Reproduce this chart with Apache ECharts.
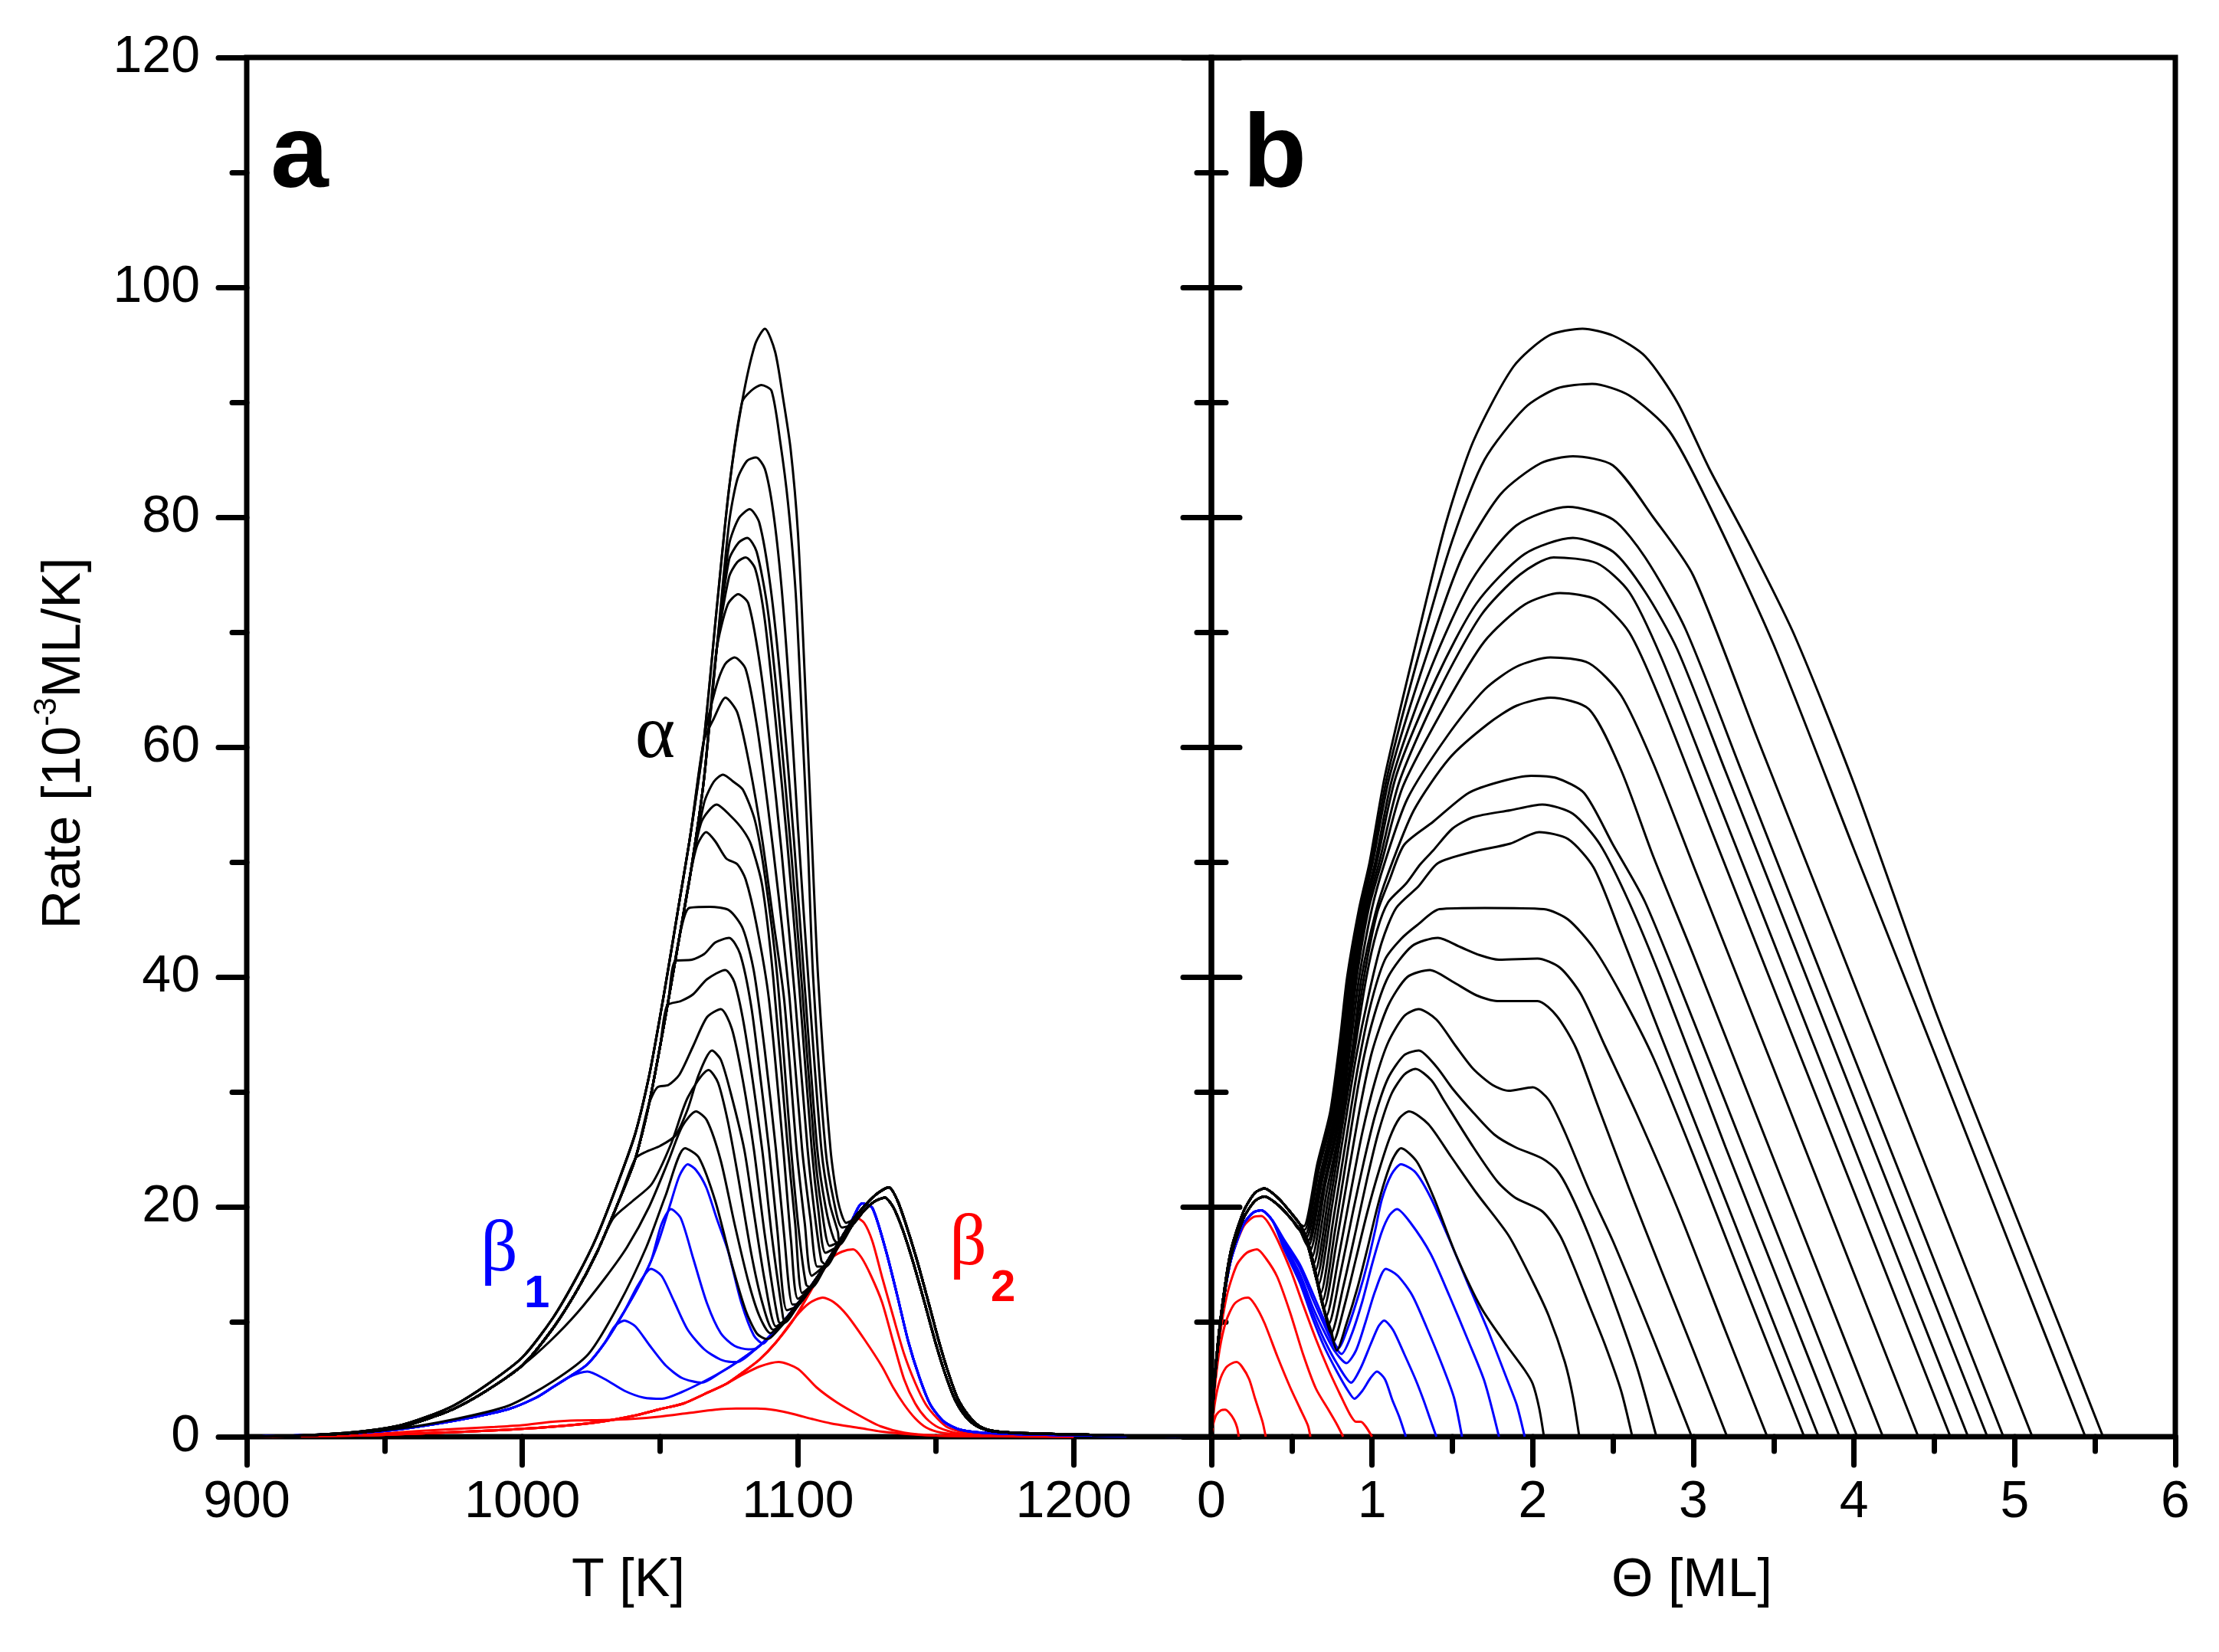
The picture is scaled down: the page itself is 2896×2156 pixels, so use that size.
<!DOCTYPE html>
<html><head><meta charset="utf-8">
<script src="https://cdn.jsdelivr.net/npm/echarts/dist/echarts.min.js"></script>
<style>html,body{margin:0;padding:0;background:#fff}#c{width:2896px;height:2156px}</style>
</head><body><div id="c"></div>
<script>
// ---------- Tick labels ----------
const xTicksA = [900, 1000, 1100, 1200];
const xTicksB = [0, 1, 2, 3, 4, 5, 6];
const yTicks = [0, 20, 40, 60, 80, 100, 120];

// ---------- Panel a : Rate vs T ----------
// zero-order leading edges of the black curves (lower and upper side of the bundle)
const leadBlackA = [[900,0],[920,0.1],[940,0.35],[955,0.8],[965,1.5],[975,2.4],[987,4.0],[1000,6.2],[1011,9.4],[1020,12.8],[1027,16],[1035,20.5],[1041,24.2],[1046,29],[1050,34],[1053,38],[1057,43.5],[1061,49],[1065.8,57],[1070.5,68.5],[1075,79.5],[1079.7,88],[1084.4,94]];
const leadBlackHiA = [[900,0],[920,0.12],[940,0.42],[955,0.95],[965,1.7],[975,2.7],[987,4.5],[1000,6.9],[1011,10.3],[1020,14],[1027,17.4],[1035,22.3],[1041,26.4],[1046,31.4],[1050,36.6],[1053,40.8],[1057,46.6],[1061,52.4],[1065.8,60.5],[1070.5,72],[1075,82.5],[1079.7,90],[1084.4,95]];
const leadBlueA = [[900,0],[930,0.2],[950,0.5],[963,0.9],[980,1.6],[995,2.4],[1005,3.4],[1011,4.3],[1017,5.2],[1023.6,6.3],[1030,8.2],[1037,10.9],[1042,13],[1046.7,15.3],[1050,17.4],[1053.9,20.4]];
const leadRedA = [[900,0],[940,0.1],[965,0.3],[990,0.55],[1010,0.85],[1027,1.25],[1040,1.8],[1050,2.4],[1058.6,2.9],[1066,3.7],[1074,4.6],[1080,5.6],[1086,6.7],[1092,8.2],[1099,10.4],[1106.6,13.5],[1112,15.5],[1116,17],[1121,18.5]];
// beta2 edges
const riseBlackLoA = [[1085,7.6],[1090,8.6],[1095,9.9],[1100,11.4],[1105,13],[1110,14.8],[1115,16.7],[1120,18.5],[1124.5,19.8],[1128,20.5],[1131.5,20.8]];
const fallBlackLoA = [[1134.5,20],[1138,18],[1142,15],[1146,11.6],[1150,8.1],[1153.5,5.4],[1157,3.2],[1161,1.7],[1165,0.9],[1170,0.5],[1180,0.32],[1200,0.2],[1225,0.07],[1250,0]];
const riseBlackA = [[1085,7.7],[1090,8.8],[1095,10.1],[1100,11.6],[1105,13.2],[1110,15],[1115,17],[1120,18.9],[1125,20.3],[1129,21.2],[1133,21.7]];
const fallBlackA = [[1136,20.6],[1139,18.6],[1143,15.5],[1147,12],[1151,8.4],[1154.5,5.6],[1158,3.3],[1162,1.8],[1166,0.9],[1171,0.5],[1180,0.33],[1200,0.2],[1225,0.07],[1250,0]];
const riseBlueA = [[1050,3.3],[1058,3.9],[1065,4.7],[1072,5.6],[1078,6.5],[1085,7.7],[1090,8.8],[1095,10.1],[1100,11.6],[1105,13.2],[1110,15],[1115,17],[1119.5,18.8],[1123.3,20.3]];
const fallBlueA = [[1127,19.9],[1132,16.1],[1136,12.3],[1140,8.3],[1144,5.2],[1148,2.8],[1153,1.3],[1159,0.6],[1170,0.3],[1200,0.12],[1250,0]];

// black curves (low -> high initial coverage): lead cut, which lead, own part
const blackCutA = [null,1000,1027,1041,1046,1050,1053,1057,1061,1061,1061,1065.8,1065.8,1070.5,1070.5,1070.5,1070.5,1075,1079.7,1084.4];
const blackHiLeadA = [0,0,0,0,0,0,0,0,0,0,0,1,1,0,0,0,0,0,1,1];
const blackMidA = [
 [[900,0],[930,0.2],[955,0.7],[975,1.5],[995,2.7],[1011,4.8],[1024,7.2],[1035,11.5],[1045,16.5],[1052,21],[1059,25.1],[1064,24.3],[1070,20.5],[1076,15],[1081,11],[1085,9],[1088.5,8.5]],
 [[1010,8.3],[1020,10.8],[1030,13.8],[1038,16.5],[1046,20],[1053,24],[1058,27],[1063,28.3],[1067,27.5],[1072,24],[1077,18.5],[1082,13.5],[1086,10.5],[1090,9]],
 [[1033,19],[1040,20.5],[1047,22],[1054,25.5],[1060,29.5],[1067.6,31.9],[1071,30.8],[1074.5,27.5],[1078,23],[1083,16],[1087,11.7],[1091,9.3]],
 [[1045,24.8],[1050,25.3],[1055.5,26.2],[1060,28.5],[1064,31.5],[1068.8,33.6],[1072,32.8],[1075.5,30],[1080.5,25],[1084,19.5],[1088,13.5],[1092,9.6]],
 [[1049,30.4],[1053,30.6],[1057,31.5],[1062,34],[1067,36.5],[1072,37.2],[1076,35.5],[1080,31],[1084,25],[1088,17.5],[1093,10]],
 [[1052.5,37.5],[1057.5,37.9],[1062,38.5],[1067,39.8],[1073.6,40.6],[1077,39.5],[1081,35],[1087,25],[1090.5,17.5],[1094.5,10.5]],
 [[1055.5,41.4],[1061.5,41.5],[1066,42],[1070,43],[1075,43.4],[1079,42],[1083,37.5],[1086.5,31],[1089.5,25],[1092.5,18],[1096,11]],
 [[1060.5,46],[1068,46.1],[1075,45.8],[1080,44.2],[1084,40.5],[1088,33.5],[1092,25],[1095,17.5],[1098,11.5]],
 [[1063.5,51.5],[1066.7,52.6],[1070,51.8],[1074,50.3],[1078,49.8],[1081,48.5],[1085,44.5],[1089.5,38],[1094.5,25.5],[1097.5,17],[1100,12]],
 [[1065,53.5],[1070.5,55],[1075.6,54],[1080,52.8],[1083,51.5],[1087,48],[1091,40],[1096,26],[1099,18.5],[1101.5,12.5]],
 [[1066,55.2],[1069.5,57],[1072.8,57.6],[1076.5,57],[1080,56.3],[1084.4,53.6],[1088,48.8],[1092.5,40],[1097.5,25],[1100.5,17.5],[1103,13.2]],
 [[1069.5,62.5],[1073.7,64.3],[1078,63],[1082.5,58.3],[1087,52],[1091,45],[1095,38],[1099.5,25],[1102.5,18.5],[1105,14]],
 [[1070,65],[1073.5,67.2],[1077,67.8],[1081,66.8],[1085,62],[1089,55],[1093,47],[1097,38],[1101.5,25],[1104.5,19],[1107,14.8]],
 [[1074.5,72.4],[1078.3,73.3],[1082,72.5],[1086,67.5],[1090,60],[1094,51],[1099,38],[1103.5,25],[1106,19.5],[1108.5,15.3]],
 [[1075,74.8],[1078,76.1],[1081,76.5],[1084.5,75.5],[1088,71],[1092,62],[1096,52],[1100.5,39],[1105,25],[1107.5,19.5],[1110,16]],
 [[1075,76.3],[1078.5,77.8],[1081.6,78.2],[1085,77],[1089,72],[1093,63],[1097.5,51],[1101.5,39],[1106,25],[1108.5,20],[1111.5,16.6]],
 [[1075,77.6],[1078.5,79.9],[1082.5,80.7],[1086,79.5],[1090,74],[1094,65],[1098.5,52],[1102.5,39],[1107,25],[1110,20],[1113,17.2]],
 [[1078,83.3],[1081.5,84.9],[1084.8,85.2],[1088,84.2],[1091,80.5],[1094,74],[1097,64.5],[1100,53],[1104,39],[1108.5,25],[1111.5,20.3],[1114.5,17.8]],
 [[1083,91],[1086.7,91.5],[1090.4,91],[1093.6,86.5],[1096.4,81.2],[1099.2,73.3],[1101.5,62],[1103.5,52],[1105.5,40],[1110,25],[1113,20.5],[1116,18.2]],
 [[1088,96.4],[1091.7,94.4],[1094.5,90.5],[1097.3,86],[1100,78.6],[1102.5,66],[1104.5,55],[1107.3,40],[1111.8,25],[1114.5,20.5],[1117.5,18.6]]
];
const blueCutA = [1017,1030,1037,1046.7,1053.9];
const blueMidA = [
 [[1023.6,5.67],[1030,5.0],[1037,4.0],[1044,3.4],[1050.7,3.3]],
 [[1033.5,9.6],[1037,10.1],[1041,9.6],[1046,8],[1052,6.2],[1058,5.1],[1065,4.7]],
 [[1042,13.2],[1046.7,14.6],[1050.5,14],[1055,11.8],[1060,9.3],[1066,7.6],[1072,6.7],[1076,6.5]],
 [[1050.5,18.5],[1053.9,19.8],[1057.5,19],[1062,15.5],[1067,11.6],[1072,9],[1077,7.9],[1082,7.6]],
 [[1057,22.7],[1060,23.7],[1063,23.2],[1066.7,21.7],[1070.5,19],[1074.7,16.1],[1079.4,11.7],[1084,8.8],[1087.4,8.1]]
];
const redCutA = [null,1074,1099,1112,1116];
const redMidA = [
 [[900,0],[940,0.15],[963,0.5],[990,0.85],[1000,1.0],[1011,1.3],[1020,1.42],[1030,1.45],[1040,1.55],[1050,1.75],[1060,2.05],[1070,2.35],[1077.5,2.45],[1085,2.45],[1092,2.3],[1098.7,1.95],[1105,1.55],[1112,1.15],[1122.6,0.75],[1130,0.45],[1138.5,0.25],[1150,0.1],[1170,0.03],[1200,0]],
 [[1080,5.4],[1086,6.1],[1093,6.5],[1100,5.9],[1106.7,4.3],[1114,3.0],[1122.6,1.8],[1130,0.9],[1138.5,0.35],[1150,0.1],[1170,0.03],[1200,0]],
 [[1104,11.6],[1109,12.1],[1113,11.7],[1117.7,10.6],[1124,8.5],[1130.5,6.1],[1134.5,4.3],[1138.5,2.8],[1142.5,1.6],[1146.5,0.8],[1152,0.35],[1165,0.08],[1200,0]],
 [[1116,16.1],[1120,16.3],[1123,15.6],[1126.5,14],[1130.5,11.7],[1134.5,8.3],[1138.5,5],[1142.5,2.9],[1146.5,1.6],[1151,0.8],[1158,0.3],[1175,0.05],[1200,0]],
 [[1120.9,19.1],[1124,18.6],[1127,17],[1130.5,13.9],[1134.5,10.5],[1138.5,7.2],[1142.5,4.7],[1146.4,2.8],[1150.5,1.6],[1154.4,0.8],[1162,0.3],[1180,0.08],[1200,0]]
];

// ---------- Panel b : Rate vs coverage ----------
const b2BlackLoB = [[0,0],[0.02,4.8],[0.06,10.2],[0.12,15.6],[0.2,19],[0.27,20.5],[0.33,20.9],[0.42,20.1],[0.5,18.9],[0.55,18.0],[0.6,16.6],[0.65,13.9],[0.7,11.0],[0.75,8.8]];
const b2BlackB = [[0,0],[0.02,5],[0.06,10.6],[0.12,16.1],[0.2,19.6],[0.27,21.2],[0.33,21.6],[0.42,20.7],[0.5,19.4],[0.55,18.5],[0.6,17.0],[0.65,14.2],[0.7,11.2],[0.75,9.0]];
const b2BlueB = [[0,0],[0.02,5],[0.06,10.3],[0.12,15.3],[0.2,18.5],[0.26,19.5],[0.31,19.7],[0.38,18.8]];
const blackB = [
 [[0.78,7.5],[0.84,9.8],[0.91,13],[0.97,16.3],[1.03,19.8],[1.08,22.3],[1.13,24.2],[1.18,25.1],[1.28,23.9],[1.39,20.6],[1.52,15.9],[1.68,11.2],[1.84,7.9],[1.95,5.8],[2.0,4.6],[2.04,2.5],[2.07,0]],
 [[0.76,8.3],[0.83,11.5],[0.9,15.5],[0.97,19.5],[1.04,23],[1.11,26],[1.17,27.7],[1.23,28.3],[1.35,27.2],[1.49,24.4],[1.65,21.2],[1.85,17.5],[2.0,13.5],[2.1,10.5],[2.2,6.5],[2.25,3.5],[2.29,0]],
 [[0.745,9],[0.82,13],[0.9,18],[0.97,22.5],[1.04,26.5],[1.12,29.8],[1.2,31.5],[1.27,32],[1.37,31],[1.45,29.2],[1.63,25.2],[1.78,22.2],[1.89,20.8],[2.06,19.6],[2.17,17.5],[2.25,15],[2.35,11.5],[2.45,8],[2.55,4],[2.62,0]],
 [[0.73,9.8],[0.8,14],[0.88,19.5],[0.95,24],[1.02,28],[1.1,31.2],[1.2,33.2],[1.29,33.6],[1.4,32.2],[1.5,30.3],[1.63,28.2],[1.76,26.3],[1.89,25.2],[2.06,24.2],[2.15,23.2],[2.23,21.3],[2.35,17.5],[2.5,12],[2.65,6],[2.77,0]],
 [[0.715,10.5],[0.79,15.5],[0.87,21.5],[0.94,26.5],[1.02,31],[1.1,34.3],[1.2,36.6],[1.29,37.2],[1.4,36.3],[1.52,34],[1.63,32],[1.75,30.6],[1.85,30.1],[2.0,30.4],[2.1,29.3],[2.2,26.5],[2.35,21.5],[2.5,17],[2.75,8.5],[2.99,0]],
 [[0.7,11.2],[0.78,17],[0.86,23.5],[0.93,29],[1.0,33.5],[1.1,37.5],[1.22,40],[1.36,40.6],[1.5,39.6],[1.65,38.4],[1.78,37.9],[2.03,37.9],[2.15,36.6],[2.27,33.8],[2.4,29],[2.6,21.6],[2.8,14.5],[3.0,7.5],[3.21,0]],
 [[0.69,11.8],[0.77,18],[0.85,25],[0.92,31],[1.0,36],[1.1,40],[1.25,42.7],[1.41,43.4],[1.55,42.6],[1.67,41.9],[1.79,41.5],[2.03,41.6],[2.17,40.8],[2.3,38.5],[2.45,34],[2.65,28],[2.9,19.9],[3.2,9.2],[3.46,0]],
 [[0.68,12.5],[0.76,19],[0.84,26],[0.91,32],[0.99,37.5],[1.08,41.5],[1.18,43.3],[1.28,44.5],[1.42,45.9],[1.7,46],[2.07,45.9],[2.22,45],[2.38,42.5],[2.55,38.5],[2.75,33],[3.0,24.5],[3.3,13.8],[3.69,0]],
 [[0.665,13.2],[0.75,20],[0.83,27],[0.9,33],[0.98,38.5],[1.06,43],[1.15,46],[1.29,47.9],[1.41,49.9],[1.63,50.9],[1.86,51.6],[2.04,52.6],[2.22,52],[2.38,49.5],[2.55,43.7],[2.8,34.8],[3.2,20.6],[3.5,9.9],[3.78,0]],
 [[0.655,13.8],[0.74,20.5],[0.82,27.5],[0.89,33.5],[0.965,40],[1.03,44],[1.1,46.5],[1.21,48.1],[1.3,49.8],[1.38,51],[1.5,52.9],[1.63,53.9],[1.86,54.5],[2.06,55],[2.25,54.2],[2.42,51.5],[2.6,46.5],[2.8,39.8],[3.2,25.2],[3.6,11],[3.91,0]],
 [[0.645,14.4],[0.73,21],[0.81,27.5],[0.88,33.5],[0.95,40],[1.03,45.5],[1.11,48.5],[1.2,51.5],[1.38,53.5],[1.6,56],[1.8,57],[1.99,57.5],[2.15,57.3],[2.32,56],[2.5,51.5],[2.7,46.5],[3.0,36.2],[3.4,22],[3.75,9.6],[4.02,0]],
 [[0.635,15],[0.72,21.5],[0.82,28.3],[0.88,34],[0.935,40],[1.02,45.5],[1.1,49],[1.26,54.5],[1.48,59],[1.72,62],[1.9,63.6],[2.11,64.3],[2.35,63.3],[2.55,58],[2.75,50.5],[3.0,41.9],[3.4,27.7],[3.8,13.5],[4.18,0]],
 [[0.625,15.6],[0.71,22],[0.81,28.3],[0.87,34.5],[0.92,40],[1.0,46],[1.08,50],[1.22,55.5],[1.47,61],[1.7,65],[1.9,67],[2.11,67.8],[2.35,67.3],[2.55,64.5],[2.75,58.6],[3.0,49.7],[3.5,32],[4.0,14.2],[4.4,0]],
 [[0.615,16.2],[0.7,22],[0.8,28.3],[0.86,34.5],[0.905,40],[0.98,46],[1.06,50],[1.19,56.5],[1.45,63.5],[1.7,69.2],[1.95,72.4],[2.17,73.4],[2.4,72.8],[2.6,70],[2.8,63.9],[3.1,53.2],[3.5,39],[4.0,21.3],[4.6,0]],
 [[0.605,16.6],[0.69,22.3],[0.79,28.3],[0.85,34.5],[0.895,40],[0.97,46],[1.045,50],[1.17,57],[1.42,65],[1.68,71.5],[1.92,75],[2.13,76.5],[2.4,76],[2.6,73.5],[2.8,67.8],[3.1,57.2],[3.5,43],[4.0,25.2],[4.4,11],[4.71,0]],
 [[0.6,17],[0.685,22.6],[0.78,28.3],[0.84,34.5],[0.885,40],[0.96,46],[1.03,50],[1.15,57.5],[1.4,66],[1.65,72.5],[1.95,76.8],[2.25,78.2],[2.5,77],[2.7,73.5],[2.9,68.5],[3.2,57.9],[3.6,43.7],[4.1,25.9],[4.5,11.7],[4.83,0]],
 [[0.59,17.3],[0.68,23],[0.77,28.3],[0.83,34.5],[0.875,40],[0.95,46],[1.02,50],[1.13,57.5],[1.37,67],[1.62,74.5],[1.9,79.3],[2.22,80.9],[2.5,79.8],[2.7,76.5],[2.95,70.3],[3.3,57.9],[3.8,40.1],[4.3,22.4],[4.93,0]],
 [[0.585,17.6],[0.67,23.3],[0.76,28.3],[0.82,34.5],[0.865,40],[0.94,46],[1.005,50],[1.11,57.5],[1.34,68],[1.56,76.5],[1.8,82],[2.05,84.7],[2.25,85.3],[2.5,84.5],[2.75,80],[3.0,74.9],[3.4,60.7],[3.9,43],[4.4,25.2],[4.8,11],[5.11,0]],
 [[0.58,18],[0.665,23.6],[0.75,28.3],[0.81,34.5],[0.855,40],[0.93,46],[0.995,50],[1.095,57.5],[1.31,69],[1.5,78],[1.7,85],[1.95,89.5],[2.15,91.2],[2.37,91.6],[2.6,90.6],[2.85,87.5],[3.1,81],[3.5,68.9],[4.0,51.1],[4.5,33.4],[5.0,15.6],[5.44,0]],
 [[0.575,18.3],[0.66,23.8],[0.74,28.3],[0.8,34.5],[0.845,40],[0.92,46],[0.985,50],[1.08,57.5],[1.29,70],[1.46,79.5],[1.63,86.6],[1.88,93.1],[2.1,95.8],[2.31,96.4],[2.5,95.8],[2.7,94],[2.9,90],[3.1,84.2],[3.34,77.9],[3.63,69.7],[4.0,56.8],[4.5,37.3],[5.0,19.5],[5.3,8.9],[5.55,0]]
];
const blueB = [
 [[0.45,16.4],[0.55,13.4],[0.63,10.3],[0.7,7.9],[0.78,5.7],[0.85,4],[0.89,3.3],[0.94,4],[0.99,5.1],[1.03,5.67],[1.08,5],[1.126,3.2],[1.17,1.7],[1.21,0]],
 [[0.45,16.6],[0.55,13.8],[0.63,10.8],[0.7,8.5],[0.78,6.4],[0.87,4.7],[0.93,6],[0.99,8],[1.04,9.6],[1.075,10.1],[1.13,9.3],[1.2,7.2],[1.27,5],[1.32,3.2],[1.36,1.6],[1.4,0]],
 [[0.45,16.8],[0.55,14.2],[0.63,11.3],[0.7,9.2],[0.77,7.4],[0.84,6.4],[0.9,7.5],[0.96,10],[1.02,12.7],[1.086,14.6],[1.16,14],[1.25,12.3],[1.34,9.5],[1.44,6.1],[1.51,3.4],[1.56,0]],
 [[0.45,17],[0.55,14.7],[0.63,12],[0.7,9.8],[0.76,8],[0.81,7.2],[0.87,8.8],[0.94,11.8],[1.0,15],[1.06,17.8],[1.11,19.3],[1.155,19.8],[1.24,18.6],[1.365,15.9],[1.48,12.3],[1.6,8.3],[1.7,4.8],[1.79,0]],
 [[0.45,17.2],[0.55,15],[0.63,12.5],[0.7,10.2],[0.75,8.6],[0.79,7.7],[0.85,9.5],[0.92,12.5],[0.97,15],[1.02,18],[1.06,20.6],[1.12,22.8],[1.18,23.7],[1.27,23],[1.365,20.8],[1.48,17.2],[1.6,13.2],[1.72,9.3],[1.84,5],[1.9,2.8],[1.95,0]]
];
const redB = [
 [[0,0],[0.01,1],[0.03,1.9],[0.06,2.3],[0.085,2.35],[0.11,2.1],[0.14,1.5],[0.16,0.8],[0.17,0]],
 [[0,0],[0.02,2.8],[0.05,4.8],[0.09,6],[0.13,6.4],[0.157,6.5],[0.19,6.1],[0.235,5],[0.27,3.4],[0.3,2.1],[0.32,1.2],[0.338,0]],
 [[0,0],[0.02,4],[0.05,7.5],[0.09,10],[0.14,11.5],[0.19,12],[0.228,12.1],[0.27,11.5],[0.33,9.9],[0.41,7],[0.49,4.3],[0.55,2.5],[0.6,1],[0.616,0]],
 [[0,0],[0.02,4.5],[0.05,8.5],[0.1,12.5],[0.16,15],[0.22,16],[0.284,16.3],[0.34,15.5],[0.41,13.9],[0.49,10.8],[0.57,7.2],[0.65,4.2],[0.73,2.3],[0.78,1.1],[0.82,0]],
 [[0,0],[0.02,5],[0.06,10.3],[0.12,15.3],[0.2,18.3],[0.26,19.1],[0.31,19.2],[0.38,18],[0.49,14.6],[0.57,11.5],[0.65,8.5],[0.73,5.8],[0.8,3.7],[0.86,2],[0.9,1.3],[0.93,1.3],[0.96,0.9],[1.0,0]]
];

// ---------- build series ----------
function buildA(lead, cut, mid, rise, fall) {
  const pts = [];
  if (lead && cut !== null) lead.forEach(p => { if (p[0] <= cut) pts.push(p); });
  mid.forEach(p => pts.push(p));
  const last = mid[mid.length - 1][0];
  if (rise) rise.forEach(p => { if (p[0] > last) pts.push(p); });
  if (fall) fall.forEach(p => pts.push(p));
  return pts;
}
function buildB(shared, mid) {
  const first = mid[0][0];
  const pts = [];
  shared.forEach(p => { if (p[0] < first) pts.push(p); });
  mid.forEach(p => pts.push(p));
  return pts;
}
const BLACK = '#000000', BLUE = '#0000ff', RED = '#ff0000';
const series = [];
function addLine(data, color, xi, yi) {
  series.push({ type: 'line', data: data, xAxisIndex: xi, yAxisIndex: yi, showSymbol: false, symbol: 'none',
    smooth: 0.25, silent: true, clip: true, lineStyle: { width: 3, color: color } });
}
redMidA.forEach((m, i) => addLine(buildA(leadRedA, redCutA[i], m, null, null), RED, 0, 0));
blueMidA.forEach((m, i) => addLine(buildA(leadBlueA, blueCutA[i], m, riseBlueA, fallBlueA), BLUE, 0, 0));
blackMidA.forEach((m, i) => {
  addLine(buildA(blackHiLeadA[i] ? leadBlackHiA : leadBlackA, blackCutA[i], m,
    i % 2 ? riseBlackA : riseBlackLoA, i % 2 ? fallBlackA : fallBlackLoA), BLACK, 0, 0);
});
redB.forEach(m => addLine(m, RED, 2, 1));
blueB.forEach(m => addLine(buildB(b2BlueB, m), BLUE, 2, 1));
blackB.forEach((m, i) => addLine(buildB(i % 2 ? b2BlackB : b2BlackLoB, m), BLACK, 2, 1));

const FONT = '"Liberation Sans", Arial, sans-serif';
const SERIF = '"Liberation Serif", "Times New Roman", serif';
const tickStyle = { width: 7, color: '#000', cap: 'round' };
const hide = { show: false };

const option = {
  animation: false,
  backgroundColor: '#ffffff',
  grid: [
    { left: 322, top: 75, width: 1259, height: 1800, show: true, borderColor: '#000', borderWidth: 7, backgroundColor: 'transparent', containLabel: false, outerBoundsMode: 'none' },
    { left: 1581, top: 75, width: 1258, height: 1800, show: true, borderColor: '#000', borderWidth: 7, backgroundColor: 'transparent', containLabel: false, outerBoundsMode: 'none' }
  ],
  xAxis: [
    { gridIndex: 0, type: 'value', position: 'bottom', min: 900, max: 1250, interval: 100, axisLine: hide, splitLine: hide,
      axisTick: { show: true, length: 37, lineStyle: tickStyle },
      axisLabel: { show: true, margin: 52, fontSize: 68, color: '#000', fontFamily: FONT, showMaxLabel: false,
        formatter: v => (xTicksA.indexOf(v) >= 0 ? String(v) : '') } },
    { gridIndex: 0, type: 'value', position: 'bottom', min: 900, max: 1250, interval: 50, axisLine: hide, splitLine: hide,
      axisTick: { show: true, length: 19, lineStyle: tickStyle }, axisLabel: hide },
    { gridIndex: 1, type: 'value', position: 'bottom', min: 0, max: 6, interval: 1, axisLine: hide, splitLine: hide,
      axisTick: { show: true, length: 37, lineStyle: tickStyle },
      minorTick: { show: true, splitNumber: 2, length: 19, lineStyle: tickStyle },
      axisLabel: { show: true, margin: 52, fontSize: 68, color: '#000', fontFamily: FONT,
        formatter: v => (xTicksB.indexOf(v) >= 0 ? String(v) : '') } }
  ],
  yAxis: [
    { gridIndex: 0, type: 'value', min: 0, max: 120, interval: 20, position: 'left', axisLine: hide, splitLine: hide,
      axisTick: { show: true, length: 37, lineStyle: tickStyle },
      minorTick: { show: true, splitNumber: 2, length: 19, lineStyle: tickStyle },
      axisLabel: { show: true, margin: 61, fontSize: 68, color: '#000', fontFamily: FONT,
        formatter: v => (yTicks.indexOf(v) >= 0 ? String(v) : '') } },
    { gridIndex: 1, type: 'value', min: 0, max: 120, interval: 20, position: 'left', axisLine: hide, splitLine: hide,
      axisTick: { show: true, length: 37, lineStyle: tickStyle },
      minorTick: { show: true, splitNumber: 2, length: 19, lineStyle: tickStyle }, axisLabel: hide },
    { gridIndex: 1, type: 'value', min: 0, max: 120, interval: 20, position: 'left', axisLine: hide, splitLine: hide,
      axisTick: { show: true, inside: true, length: 37, lineStyle: tickStyle },
      minorTick: { show: true, splitNumber: 2, length: 19, lineStyle: tickStyle }, axisLabel: hide }
  ],
  graphic: [
    { type: 'text', x: 353, y: 206, z: 100, style: { text: 'a', fill: '#000', fontSize: 136, fontWeight: 'bold', fontFamily: '"Liberation Sans Narrow", ' + FONT, align: 'left', verticalAlign: 'middle' } },
    { type: 'text', x: 1622, y: 205, z: 100, style: { text: 'b', fill: '#000', fontSize: 136, fontWeight: 'bold', fontFamily: '"Liberation Sans Narrow", ' + FONT, align: 'left', verticalAlign: 'middle' } },
    { type: 'text', x: 855, y: 962, z: 100, style: { text: 'α', fill: '#000', fontSize: 100, fontFamily: SERIF, align: 'center', verticalAlign: 'middle' } },
    { type: 'text', x: 627, y: 1633, z: 100, style: { text: 'β', fill: BLUE, fontSize: 96, fontFamily: SERIF, align: 'left', verticalAlign: 'middle' } },
    { type: 'text', x: 684, y: 1689, z: 100, style: { text: '1', fill: BLUE, fontSize: 60, fontWeight: 'bold', fontFamily: FONT, align: 'left', verticalAlign: 'middle' } },
    { type: 'text', x: 1239, y: 1625, z: 100, style: { text: 'β', fill: RED, fontSize: 96, fontFamily: SERIF, align: 'left', verticalAlign: 'middle' } },
    { type: 'text', x: 1293, y: 1682, z: 100, style: { text: '2', fill: RED, fontSize: 58, fontWeight: 'bold', fontFamily: FONT, align: 'left', verticalAlign: 'middle' } },
    { type: 'text', x: 820, y: 2064, z: 100, style: { text: 'T [K]', fill: '#000', fontSize: 70, fontFamily: FONT, align: 'center', verticalAlign: 'middle' } },
    { type: 'text', x: 2208, y: 2064, z: 100, style: { text: 'Θ [ML]', fill: '#000', fontSize: 70, fontFamily: FONT, align: 'center', verticalAlign: 'middle' } },
    { type: 'text', x: 80, y: 970, rotation: Math.PI / 2, z: 100, style: {
        text: '{a|Rate [10}{s|-3}{a|ML/K]}', fill: '#000', align: 'center', verticalAlign: 'middle',
        rich: { a: { fontSize: 70, fontFamily: FONT, lineHeight: 80, verticalAlign: 'bottom', fill: '#000' },
                s: { fontSize: 42, fontFamily: FONT, lineHeight: 44, verticalAlign: 'top', fill: '#000' } } } }
  ],
  series: series
};
const chart = echarts.init(document.getElementById('c'), null, { renderer: 'canvas' });
chart.setOption(option);
</script></body></html>
